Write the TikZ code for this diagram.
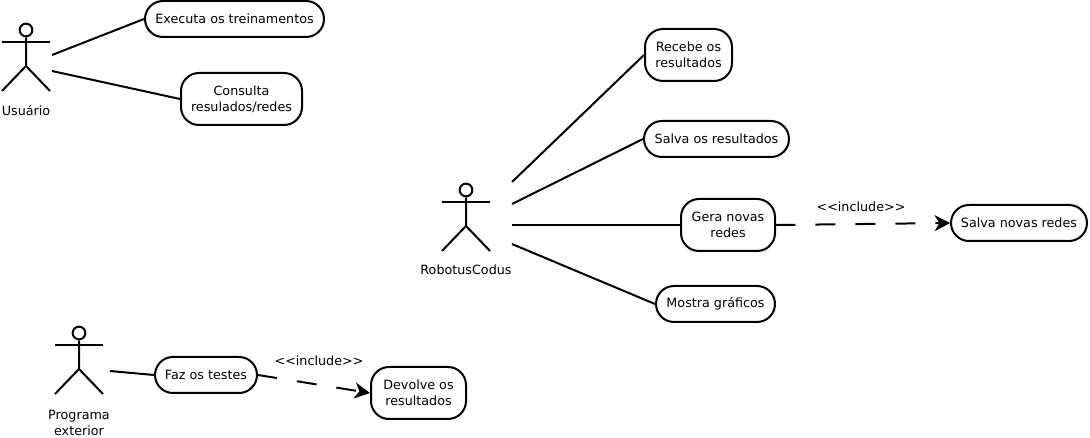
\documentclass[tikz,border=0pt]{standalone}
\usepackage{fontspec}
\setmainfont{DejaVu Sans}
\usetikzlibrary{arrows.meta}
\tikzset{
  px/.style={x=0.75pt,y=-0.75pt},
  usecase/.style={draw=black,line width=1.5pt,rounded corners=13.5pt,align=center,inner sep=0pt,font=\fontsize{9.55}{12}\selectfont,text=black},
  lbl/.style={align=center,inner sep=0pt,font=\fontsize{9.55}{12}\selectfont,text=black},
  assoc/.style={draw=black,line width=1.5pt},
  incl/.style={draw=black,line width=1.5pt,dash pattern=on 14.5pt off 15pt on 15pt off 15pt on 15pt off 15pt on 15pt off 15pt on 15pt off 15pt on 15pt off 15pt,-{Stealth[length=11.5pt,width=12pt,inset=3.5pt]}},
  stick/.style={draw=black,line width=1.5pt},
  actorhead/.style={draw=black,line width=1.5pt,circle,minimum size=9.5pt,inner sep=0pt}
}
\newcommand{\actorfig}[3]{%
  \node[actorhead] (#3head) at (#1,#2) {};
  \coordinate (#3la) at (#1-24,#2+12);
  \coordinate (#3ra) at (#1+24,#2+12);
  \coordinate (#3hip) at (#1,#2+36);
  \coordinate (#3ll) at (#1-24,#2+61);
  \coordinate (#3rl) at (#1+24,#2+61);
  \draw[stick] (#3head) -- (#3hip) -- (#3ll);
  \draw[stick] (#3hip) -- (#3rl);
  \draw[stick] (#3la) -- (#3ra);
}
\begin{document}
\begin{tikzpicture}[px]
\useasboundingbox (0,0) rectangle (1090,438);
% actors
\actorfig{26}{30}{u}
\actorfig{466}{190}{r}
\actorfig{79}{333}{p}
\node[lbl] (ulabel) at (26,111) {Usuário};
\node[lbl] (rlabel) at (466,270) {RobotusCodus};
\node[lbl] (plabel) at (79,423) {Programa\\exterior};
% use cases
\node[usecase,minimum width=134.25pt,minimum height=27pt] (exec) at (234.5,19) {Executa os treinamentos};
\node[usecase,minimum width=90.75pt,minimum height=39pt] (cons) at (241.5,99) {Consulta\\resulados/redes};
\node[usecase,minimum width=65.25pt,minimum height=39pt] (rece) at (688.5,55) {Recebe os\\resultados};
\node[usecase,minimum width=108.75pt,minimum height=27pt] (salv) at (716.5,139) {Salva os resultados};
\node[usecase,minimum width=70.5pt,minimum height=39pt] (gera) at (728,225) {Gera novas\\redes};
\node[usecase,minimum width=89.25pt,minimum height=27pt] (most) at (715.5,304) {Mostra gráficos};
\node[usecase,minimum width=102pt,minimum height=27pt] (nova) at (1019,223) {Salva novas redes};
\node[usecase,minimum width=76.5pt,minimum height=27pt] (faz) at (206,375) {Faz os testes};
\node[usecase,minimum width=71.25pt,minimum height=39pt] (devo) at (418.5,393) {Devolve os\\resultados};
% free ends
\coordinate (ua) at (52,55);
\coordinate (ub) at (52,71);
\coordinate (ra) at (512,182);
\coordinate (rb) at (512,204);
\coordinate (rc) at (512,225);
\coordinate (rd) at (512,244);
\coordinate (pa) at (110,371);
% connectors
\draw[assoc] (ua) -- (exec.west);
\draw[assoc] (ub) -- (cons.west);
\draw[assoc] (ra) -- (rece.west);
\draw[assoc] (rb) -- (salv.west);
\draw[assoc] (rc) -- (gera.west);
\draw[assoc] (rd) -- (most.west);
\draw[assoc] (pa) -- (faz.west);
\draw[incl] (gera.east) -- (nova.west);
\draw[incl] (faz.east) -- (devo.west);
% labels
\node[lbl] (inca) at (861,207) {<{}<include>{}>};
\node[lbl] (incb) at (319,361) {<{}<include>{}>};
\end{tikzpicture}
\end{document}
